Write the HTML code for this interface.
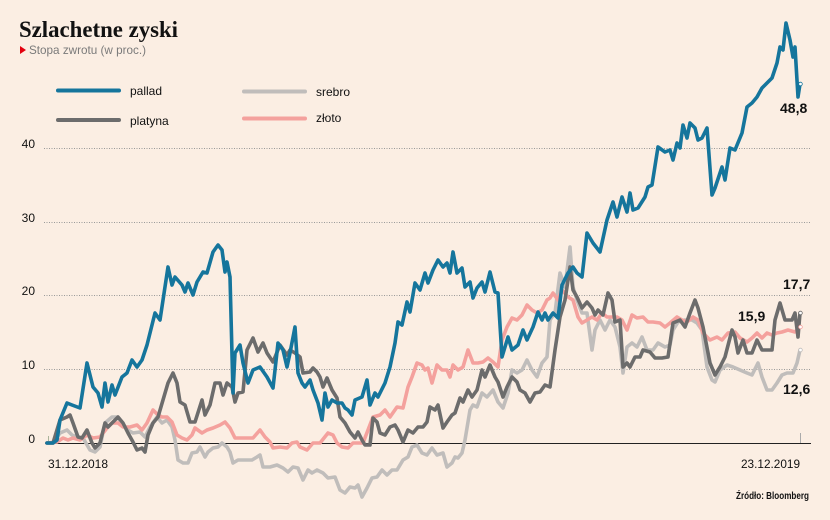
<!DOCTYPE html>
<html>
<head>
<meta charset="utf-8">
<style>
html,body{margin:0;padding:0;background:#fbeee3;}
svg{display:block;}
text{font-family:"Liberation Sans",sans-serif;}
text.serif{font-family:"Liberation Serif",serif;}
</style>
</head>
<body>
<svg width="830" height="520" viewBox="0 0 830 520" xmlns="http://www.w3.org/2000/svg">
<rect x="0" y="0" width="830" height="520" fill="#fbeee3"/>
<!-- title -->
<text class="serif" x="19" y="37" style="font-family:'Liberation Serif',serif;font-weight:bold;font-size:23px" fill="#111" textLength="159" lengthAdjust="spacingAndGlyphs">Szlachetne zyski</text>
<polygon points="20,46 20,54 26,50" fill="#e3000f"/>
<text x="29" y="54" font-size="12" fill="#7a7a7a" textLength="117" lengthAdjust="spacingAndGlyphs">Stopa zwrotu (w proc.)</text>

<!-- legend -->
<g stroke-width="4" stroke-linecap="round">
<line x1="58" y1="90.5" x2="119" y2="90.5" stroke="#15759c"/>
<line x1="58" y1="120" x2="119" y2="120" stroke="#6c6c6c"/>
<line x1="244" y1="91.5" x2="305" y2="91.5" stroke="#c0bdbb"/>
<line x1="244" y1="118.5" x2="305" y2="118.5" stroke="#f4a19d"/>
</g>
<g font-size="12" fill="#111">
<text x="130" y="95">pallad</text>
<text x="130" y="125">platyna</text>
<text x="316" y="96">srebro</text>
<text x="316" y="122">złoto</text>
</g>

<!-- grid -->
<g stroke="#9a9a9a" stroke-width="1" stroke-dasharray="1,1.5">
<line x1="44" y1="148.5" x2="811" y2="148.5"/>
<line x1="44" y1="222.5" x2="811" y2="222.5"/>
<line x1="44" y1="295.5" x2="811" y2="295.5"/>
<line x1="44" y1="369.5" x2="811" y2="369.5"/>
</g>
<g font-size="12" fill="#111" text-anchor="end">
<text x="35" y="148">40</text>
<text x="35" y="222">30</text>
<text x="35" y="295">20</text>
<text x="35" y="369">10</text>
<text x="35" y="443">0</text>
</g>
<line x1="45" y1="443.5" x2="811" y2="443.5" stroke="#222" stroke-width="1"/>
<line x1="48.5" y1="436" x2="48.5" y2="443" stroke="#aab39a" stroke-width="1"/>
<line x1="800.5" y1="433" x2="800.5" y2="443" stroke="#aaa" stroke-width="1"/>

<g fill="none" stroke-width="3.6" stroke-linejoin="round" stroke-linecap="round">
<!-- srebro -->
<polyline stroke="#c0bdbb" points="47,443 53,443 60,433 67,430 72,435 77,437 83,438 90,450 95,452 100,447 105,423 112,417 117,417 122,423 128,430 133,433 140,432 145,437 150,427 157,417 162,423 167,420 172,427 175,440 178,460 183,463 188,463 192,453 197,452 200,447 205,457 208,452 213,448 218,447 222,443 227,447 230,452 233,463 238,460 245,460 252,460 257,457 260,455 263,467 270,467 277,465 283,468 288,472 293,467 298,468 303,480 308,470 312,473 317,470 323,473 328,478 335,477 340,490 345,493 350,487 355,488 358,485 362,497 367,488 372,478 377,477 382,470 387,475 392,470 397,470 403,460 408,457 412,447 417,445 422,453 427,455 432,448 437,455 443,453 447,467 452,463 455,457 458,458 462,453 465,440 470,410 473,405 477,407 482,393 487,397 493,390 498,402 503,408 508,393 512,370 517,373 522,370 527,360 532,370 537,377 542,363 547,357 550,320 555,313 560,273 565,287 570,247 573,287 577,300 582,313 587,313 592,350 595,330 600,320 605,330 610,320 615,327 620,347 623,373 627,347 632,343 637,347 642,337 647,350 653,350 658,343 665,347 670,345 673,330 678,322 685,320 692,320 697,323 702,330 707,367 712,380 715,382 720,370 727,365 733,367 740,370 747,373 752,375 758,363 762,377 767,390 772,390 777,383 782,375 787,373 793,373 797,363 800,350"/>
<!-- zloto -->
<polyline stroke="#f4a19d" points="47,443 57,442 63,438 68,440 73,438 80,440 87,435 93,438 100,437 107,428 112,423 118,423 123,427 130,427 137,425 142,430 147,423 153,410 158,415 162,417 167,417 172,422 177,435 182,438 187,440 192,435 195,428 202,433 207,430 213,428 220,425 225,422 230,428 235,438 240,438 247,438 253,438 260,430 265,437 270,442 273,448 280,447 287,448 292,443 297,442 300,447 307,450 313,443 320,443 328,433 333,435 337,443 342,447 348,448 353,443 360,443 363,443 368,430 373,417 380,415 385,410 390,417 397,407 403,408 408,387 412,377 417,363 422,365 425,370 428,368 432,383 437,365 442,370 447,370 450,377 453,365 458,370 463,367 468,350 473,363 478,363 483,362 488,358 493,362 498,367 502,340 507,327 512,318 517,320 522,315 527,305 532,310 537,313 542,310 547,300 550,298 553,293 558,300 562,290 568,297 573,300 578,317 582,323 587,320 592,317 597,320 602,313 607,317 612,317 617,317 622,320 627,330 632,315 637,318 643,317 648,322 653,322 660,323 665,327 670,323 677,317 682,320 687,322 693,317 698,320 703,333 710,340 717,337 722,340 728,333 735,332 740,338 747,342 752,338 757,333 762,338 767,333 772,335 777,333 782,332 788,330 795,332 800,327"/>
<!-- platyna -->
<polyline stroke="#6c6c6c" points="47,443 53,443 60,420 67,417 70,415 73,423 78,437 82,438 87,430 92,443 95,448 100,443 105,423 108,427 113,422 118,417 123,423 128,433 133,442 137,450 142,448 145,452 148,435 153,423 158,417 163,400 168,383 173,373 177,383 180,402 185,405 190,422 195,422 202,400 205,415 210,405 215,383 220,383 223,395 227,383 232,387 235,402 238,393 243,392 247,350 253,338 258,352 263,343 267,353 273,362 280,345 287,355 290,350 295,353 300,357 303,373 310,372 313,368 317,372 320,377 323,387 327,378 332,390 337,398 340,417 345,423 350,432 355,438 358,432 362,440 365,445 370,445 373,418 377,422 380,433 385,435 390,427 395,425 398,430 403,442 408,430 413,433 418,427 423,427 427,422 430,407 435,410 438,405 443,428 447,422 452,415 455,413 460,398 463,402 468,390 472,397 477,390 482,370 485,377 490,365 495,377 498,382 503,397 507,387 512,377 517,382 520,390 525,393 530,402 535,393 540,392 545,385 550,387 555,350 560,317 565,300 570,267 573,290 577,297 582,308 587,302 592,308 595,315 598,310 603,315 608,293 612,300 615,322 620,320 623,367 627,363 630,367 635,357 640,357 643,350 650,352 655,358 662,358 668,357 673,323 680,320 685,327 690,313 695,300 698,308 703,327 710,363 715,375 720,367 725,357 732,330 735,337 738,353 743,340 747,353 752,353 757,340 762,350 767,350 772,350 775,320 780,303 785,320 792,320 795,313 798,337 800,313"/>
<!-- pallad -->
<polyline stroke="#15759c" points="47,443 53,443 57,440 60,420 67,403 72,405 80,408 87,363 93,387 98,393 102,407 105,383 108,402 112,385 115,395 122,377 127,373 132,360 137,367 142,360 147,345 155,313 160,320 168,267 172,285 175,277 182,285 185,292 188,283 193,295 197,282 203,272 207,273 213,252 218,245 222,250 225,272 227,262 230,277 233,393 235,353 240,345 243,363 248,383 253,370 260,367 267,377 273,388 278,343 283,350 287,367 290,353 295,327 298,373 302,383 305,387 310,380 313,390 318,403 322,420 325,393 328,407 332,400 337,403 342,403 345,408 348,410 352,415 355,400 362,397 367,380 370,405 375,393 378,397 385,383 390,367 395,343 398,322 402,325 407,302 410,312 415,283 420,290 425,273 428,283 433,270 438,260 443,267 447,263 450,273 453,252 457,273 462,268 465,287 470,282 473,298 477,288 482,282 485,292 490,272 495,292 498,293 502,357 508,337 512,350 518,345 523,330 527,340 533,327 538,312 542,320 545,313 548,320 553,313 558,318 562,285 568,273 573,267 577,273 582,277 587,233 593,243 600,252 607,220 613,202 617,217 622,197 627,212 630,193 633,210 638,208 645,197 648,187 652,185 658,147 665,152 670,150 673,160 677,143 680,148 683,125 687,138 690,123 695,128 698,140 702,138 707,128 712,195 715,188 722,167 725,180 730,148 735,150 742,133 747,107 752,103 757,97 762,88 767,83 772,78 777,63 780,47 783,50 786,23 790,40 793,57 795,47 798,97 800,84"/>
</g>
<!-- end markers -->
<g fill="#fff" stroke-width="0.8">
<circle cx="800.5" cy="84" r="1.8" stroke="#15759c"/>
<circle cx="800.5" cy="313" r="1.8" stroke="#6c6c6c"/>
<circle cx="800.5" cy="327" r="1.8" stroke="#f4a19d"/>
<circle cx="800.5" cy="350" r="1.8" stroke="#c0bdbb"/>
</g>

<!-- value labels -->
<g font-size="14" font-weight="bold" fill="#111">
<text x="780" y="113">48,8</text>
<text x="783" y="289">17,7</text>
<text x="738" y="321">15,9</text>
<text x="783" y="394">12,6</text>
</g>

<!-- dates and source -->
<g font-size="12" fill="#111">
<text x="48" y="468" textLength="60" lengthAdjust="spacingAndGlyphs">31.12.2018</text>
<text x="741" y="468" textLength="59" lengthAdjust="spacingAndGlyphs">23.12.2019</text>
</g>
<text x="736" y="499" font-size="10" font-weight="bold" fill="#111" textLength="73" lengthAdjust="spacingAndGlyphs">Źródło: Bloomberg</text>
</svg>
</body>
</html>
